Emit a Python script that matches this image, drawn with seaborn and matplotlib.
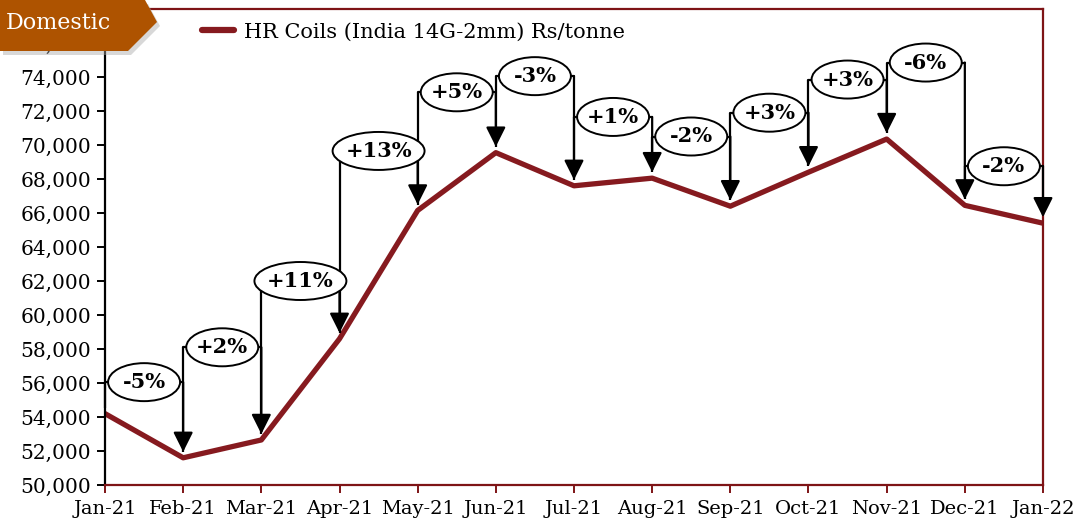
import numpy as np
import matplotlib
matplotlib.use("Agg")
import matplotlib.pyplot as plt
import matplotlib.patches as mpatches
from matplotlib.ticker import FuncFormatter
import seaborn as sns
import pandas as pd

# data
months = ['Jan-21', 'Feb-21', 'Mar-21', 'Apr-21', 'May-21', 'Jun-21', 'Jul-21',
          'Aug-21', 'Sep-21', 'Oct-21', 'Nov-21', 'Dec-21', 'Jan-22']
prices = [54200, 51600, 52650, 58600, 66150, 69550, 67600,
          68050, 66400, 68400, 70350, 66450, 65400]
changes = ['-5%', '+2%', '+11%', '+13%', '+5%', '-3%',
           '+1%', '-2%', '+3%', '+3%', '-6%', '-2%']
label_levels = [56050, 58100, 62000, 69650, 73100, 74050,
                71650, 70500, 71900, 73850, 74850, 68750]
series_name = 'HR Coils (India 14G-2mm) Rs/tonne'

LINE_RED = '#861A1F'
SPINE_RED = '#7E1416'
TAG_COLOR = '#AE5300'

sns.set_theme(style='white')
plt.rcParams['font.family'] = ['DejaVu Serif']
plt.rcParams['text.color'] = 'black'

df = pd.DataFrame({'idx': np.arange(len(months)), 'price': prices})

fig = plt.figure(figsize=(10.76, 5.23), dpi=100)
ax = fig.add_axes([105 / 1076, 38 / 523, (1043 - 105) / 1076, (485 - 9) / 523])

sns.lineplot(data=df, x='idx', y='price', ax=ax, color=LINE_RED, lw=3.8,
             label=series_name, zorder=2)

# bracket annotations with % change
for i, txt in enumerate(changes):
    x0, x1 = i, i + 1
    lev = label_levels[i]
    ax.plot([x0, x0], [prices[i] + 350, lev], color='black', lw=1.6,
            zorder=3, solid_capstyle='butt', clip_on=False)
    ax.plot([x0, x1], [lev, lev], color='black', lw=1.6, zorder=3, clip_on=False)
    ax.annotate('', xy=(x1, prices[i + 1] + 350), xytext=(x1, lev),
                arrowprops=dict(arrowstyle='-|>,head_length=1.0,head_width=0.5',
                                mutation_scale=12, lw=1.6, color='black',
                                shrinkA=0, shrinkB=0),
                zorder=3, annotation_clip=False)
    w_px = 72 if len(txt) <= 3 else 92
    ell = mpatches.Ellipse(((x0 + x1) / 2, lev), width=w_px / 78.2,
                           height=38 / 17 * 1000, facecolor='white',
                           edgecolor='black', lw=1.4, zorder=4, clip_on=False)
    ax.add_patch(ell)
    ax.text((x0 + x1) / 2, lev, txt, ha='center', va='center', color='black',
            fontsize=15, fontweight='bold', zorder=5)

ax.set_xlim(0, len(months) - 1)
ax.set_ylim(50000, 78000)
ax.set_xticks(np.arange(len(months)))
ax.set_xticklabels(months)
ax.set_yticks(np.arange(50000, 76001, 2000))
ax.yaxis.set_major_formatter(FuncFormatter(lambda v, p: f'{int(v):,}'))
ax.set_xlabel('')
ax.set_ylabel('')

for side in ['top', 'right', 'bottom']:
    ax.spines[side].set_color(SPINE_RED)
    ax.spines[side].set_linewidth(1.6)
ax.spines['left'].set_color('black')
ax.spines['left'].set_linewidth(1.6)

ax.tick_params(axis='y', which='major', direction='out', length=6, width=1.4,
               color='black', labelsize=14.5, pad=4, left=True,
               labelcolor='black')
ax.tick_params(axis='x', which='major', direction='out', length=6, width=1.4,
               color=SPINE_RED, labelsize=14, pad=5, bottom=True,
               labelcolor='black')

leg = ax.legend(loc='upper left', bbox_to_anchor=(194 / 1076, 1 - 14 / 523),
                bbox_transform=fig.transFigure, frameon=False, fontsize=15,
                handlelength=1.5, handletextpad=0.5, borderaxespad=0)
for h in leg.get_lines():
    h.set_linewidth(4.5)
    h.set_solid_capstyle('round')
for t in leg.get_texts():
    t.set_color('black')

# "Domestic" tag in the top-left corner
W, H = 1076, 523
tag_px = [(0, 0), (145, 0), (157, 22), (128, 51), (0, 51)]
shadow = mpatches.Polygon([((x + 3) / W, 1 - (y + 4) / H) for x, y in tag_px],
                          closed=True, transform=fig.transFigure,
                          facecolor='#aaaaaa', alpha=0.45, edgecolor='none',
                          zorder=9)
tag = mpatches.Polygon([(x / W, 1 - y / H) for x, y in tag_px], closed=True,
                       transform=fig.transFigure, facecolor=TAG_COLOR,
                       edgecolor='none', zorder=10)
fig.patches.extend([shadow, tag])
fig.text(6 / W, 1 - 23 / H, 'Domestic', color='white', fontsize=16,
         ha='left', va='center', zorder=11)

fig.savefig('out.png', dpi=100)
